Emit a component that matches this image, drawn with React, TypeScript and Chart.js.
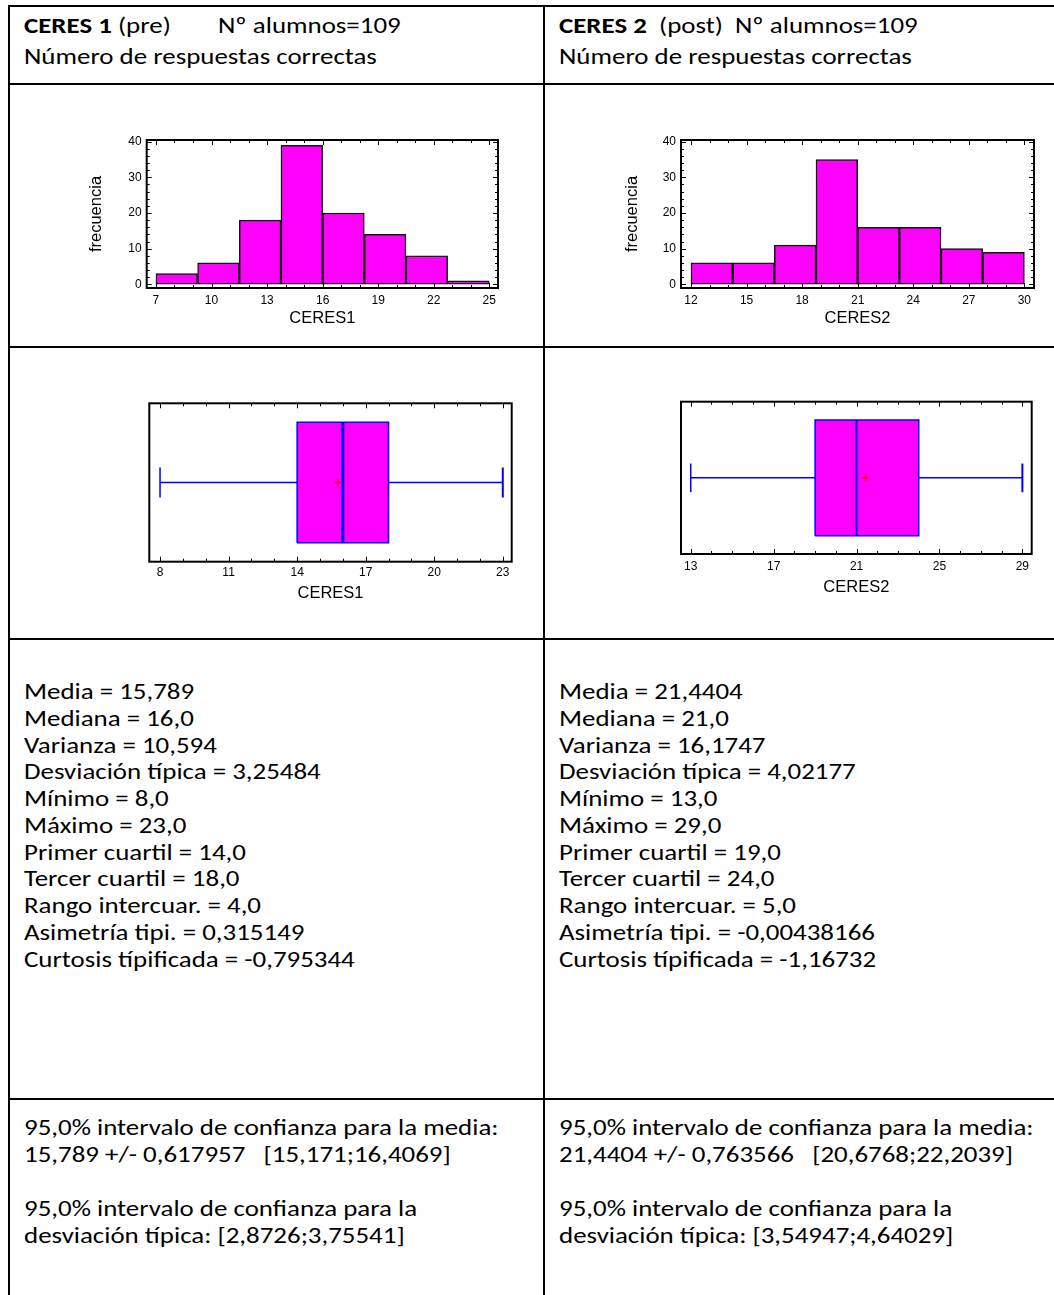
import React, { useEffect, useRef } from "react";
import { Chart, registerables } from "chart.js";

Chart.register(...registerables);

const TEXT_FONT = 'Carlito, "Liberation Sans", Arial, sans-serif';
const CHART_FONT = '"Liberation Sans", Arial, sans-serif';
const MAGENTA = "#FF00FF";
const BLUE = "#0000FF";

// Histogram bins (edges) and frequencies
const PRE_BIN_EDGES = [7, 9.25, 11.5, 13.75, 16, 18.25, 20.5, 22.75, 25];
const PRE_COUNTS = [3, 6, 18, 39, 20, 14, 8, 1];
const POST_BIN_EDGES = [12, 14.25, 16.5, 18.75, 21, 23.25, 25.5, 27.75, 30];
const POST_COUNTS = [6, 6, 11, 35, 16, 16, 10, 9];

// Axis ticks
const PRE_HIST_TICKS = [7, 10, 13, 16, 19, 22, 25];
const POST_HIST_TICKS = [12, 15, 18, 21, 24, 27, 30];
const FREQ_TICKS = [0, 10, 20, 30, 40];
const PRE_BOX_TICKS = [8, 11, 14, 17, 20, 23];
const POST_BOX_TICKS = [13, 17, 21, 25, 29];

// Box-and-whisker summaries: min, Q1, median, Q3, max
const PRE_FIVE = [8, 14, 16, 18, 23];
const POST_FIVE = [13, 19, 21, 24, 29];
const PRE_MEAN = 15.789;
const POST_MEAN = 21.4404;

// Summary statistics
const STAT_LABELS = [
  "Media",
  "Mediana",
  "Varianza",
  "Desviación típica",
  "Mínimo",
  "Máximo",
  "Primer cuartil",
  "Tercer cuartil",
  "Rango intercuar.",
  "Asimetría tipi.",
  "Curtosis típificada",
];
const PRE_STATS = ["15,789", "16,0", "10,594", "3,25484", "8,0", "23,0", "14,0", "18,0", "4,0", "0,315149", "-0,795344"];
const POST_STATS = ["21,4404", "21,0", "16,1747", "4,02177", "13,0", "29,0", "19,0", "24,0", "5,0", "-0,00438166", "-1,16732"];

const PRE_CI = [
  "95,0% intervalo de confianza para la media:",
  "15,789 +/- 0,617957   [15,171;16,4069]",
  "",
  "95,0% intervalo de confianza para la",
  "desviación típica: [2,8726;3,75541]",
];
const POST_CI = [
  "95,0% intervalo de confianza para la media:",
  "21,4404 +/- 0,763566   [20,6768;22,2039]",
  "",
  "95,0% intervalo de confianza para la",
  "desviación típica: [3,54947;4,64029]",
];

// Frame around the plot area with inward major/minor tick marks
const frameTicks = {
  id: "frameTicks",
  afterDatasetsDraw(chart: any, _args: any, opts: any) {
    const { ctx, chartArea: a, scales } = chart;
    const x = scales.x;
    const y = scales.y;
    ctx.save();
    ctx.strokeStyle = "#000";
    ctx.lineWidth = 1;
    ctx.beginPath();
    const seg = (x1: number, y1: number, x2: number, y2: number) => {
      ctx.moveTo(x1, y1);
      ctx.lineTo(x2, y2);
    };
    const xMaj = new Set(opts.xMajor);
    for (let v = Math.ceil(x.min); v <= x.max; v += opts.xMinorStep) {
      const p = Math.round(x.getPixelForValue(v)) + 0.5;
      const len = xMaj.has(v) ? 5 : 3;
      seg(p, a.bottom, p, a.bottom - len);
      seg(p, a.top, p, a.top + len);
    }
    if (opts.yMinorStep) {
      const yMaj = new Set(opts.yMajor);
      const start = Math.ceil(y.min / opts.yMinorStep) * opts.yMinorStep;
      for (let v = start; v <= y.max; v += opts.yMinorStep) {
        const p = Math.round(y.getPixelForValue(v)) + 0.5;
        const len = yMaj.has(v) ? 5 : 3;
        seg(a.left, p, a.left + len, p);
        seg(a.right, p, a.right - len, p);
      }
    }
    ctx.stroke();
    ctx.lineWidth = 2;
    ctx.strokeRect(a.left, a.top, a.right - a.left, a.bottom - a.top);
    ctx.restore();
  },
};

type Geom = {
  left: number;
  top: number;
  width: number;
  height: number;
  pad: { left: number; right: number; top: number; bottom: number };
  xAxisH: number;
  yAxisW?: number;
  xRange: [number, number];
  tickPadX: number;
  titlePadX: number;
  titlePadY?: number;
};

function ChartCanvas({ geom, makeConfig }: { geom: Geom; makeConfig: () => any }) {
  const ref = useRef<HTMLCanvasElement>(null);
  useEffect(() => {
    const chart = new Chart(ref.current as HTMLCanvasElement, makeConfig());
    return () => chart.destroy();
  }, []);
  return (
    <canvas
      ref={ref}
      width={geom.width}
      height={geom.height}
      style={{ position: "absolute", left: geom.left, top: geom.top, width: geom.width, height: geom.height }}
    />
  );
}

const tickFont = { family: CHART_FONT, size: 12 };
const titleFont = { family: CHART_FONT, size: 16.5 };

function xScale(g: Geom, ticks: number[], title: string) {
  return {
    type: "linear",
    min: g.xRange[0],
    max: g.xRange[1],
    offset: false,
    afterBuildTicks: (s: any) => {
      s.ticks = ticks.map((v) => ({ value: v }));
    },
    afterFit: (s: any) => {
      s.height = g.xAxisH;
    },
    grid: { display: false, drawTicks: false },
    border: { display: false },
    ticks: {
      font: tickFont,
      color: "#000",
      padding: g.tickPadX,
      autoSkip: false,
      maxRotation: 0,
      callback: (_v: any, i: number) => String(ticks[i]),
    },
    title: { display: true, text: title, font: titleFont, color: "#000", padding: { top: 0, bottom: g.titlePadX } },
  };
}

function histConfig(g: Geom, edges: number[], counts: number[], ticks: number[], title: string) {
  const points = counts.map((c, i) => ({ x: (edges[i] + edges[i + 1]) / 2, y: c }));
  return {
    type: "bar",
    data: {
      datasets: [
        {
          data: points,
          backgroundColor: MAGENTA,
          borderColor: "#111",
          borderWidth: 1.5,
          borderSkipped: false,
          categoryPercentage: 1,
          barPercentage: 1,
          grouped: false,
        },
      ],
    },
    plugins: [frameTicks],
    options: {
      animation: false,
      responsive: false,
      maintainAspectRatio: false,
      layout: { padding: g.pad },
      plugins: {
        legend: { display: false },
        tooltip: { enabled: false },
        frameTicks: { xMajor: ticks, xMinorStep: 1, yMajor: FREQ_TICKS, yMinorStep: 2 },
      },
      scales: {
        x: xScale(g, ticks, title),
        y: {
          type: "linear",
          min: -1.04,
          max: 40.48,
          afterBuildTicks: (s: any) => {
            s.ticks = FREQ_TICKS.map((v) => ({ value: v }));
          },
          afterFit: (s: any) => {
            s.width = g.yAxisW;
          },
          grid: { display: false, drawTicks: false },
          border: { display: false },
          ticks: {
            font: tickFont,
            color: "#000",
            padding: 5,
            autoSkip: false,
            callback: (_v: any, i: number) => String(FREQ_TICKS[i]),
          },
          title: {
            display: true,
            text: "frecuencia",
            font: titleFont,
            color: "#000",
            padding: { top: g.titlePadY, bottom: 0 },
          },
        },
      },
    },
  };
}

const BOX_HALF = 0.76;
const CAP_HALF = 0.19;

function boxConfig(g: Geom, five: number[], mean: number, ticks: number[], title: string, medianWidth: number) {
  const [mn, q1, med, q3, mx] = five;
  const line = (data: any[], extra: any = {}) => ({
    data,
    showLine: true,
    borderColor: BLUE,
    borderWidth: 1.5,
    pointRadius: 0,
    fill: false,
    tension: 0,
    ...extra,
  });
  return {
    type: "scatter",
    data: {
      datasets: [
        {
          data: [{ x: mean, y: 0 }],
          pointStyle: "cross",
          pointRadius: 3.5,
          borderColor: "#FF0000",
          borderWidth: 1.2,
          order: 0,
        },
        line(
          [
            { x: med, y: -BOX_HALF },
            { x: med, y: BOX_HALF },
          ],
          { borderWidth: medianWidth, order: 1 }
        ),
        line(
          [
            { x: q1, y: -BOX_HALF },
            { x: q3, y: -BOX_HALF },
            { x: q3, y: BOX_HALF },
            { x: q1, y: BOX_HALF },
            { x: q1, y: -BOX_HALF },
          ],
          { fill: "shape", backgroundColor: MAGENTA, order: 2 }
        ),
        line([
          { x: mn, y: 0 },
          { x: q1, y: 0 },
        ], { order: 3 }),
        line([
          { x: q3, y: 0 },
          { x: mx, y: 0 },
        ], { order: 3 }),
        line([
          { x: mn, y: -CAP_HALF },
          { x: mn, y: CAP_HALF },
        ], { order: 3 }),
        line([
          { x: mx, y: -CAP_HALF },
          { x: mx, y: CAP_HALF },
        ], { order: 3, borderWidth: 2 }),
      ],
    },
    plugins: [frameTicks],
    options: {
      animation: false,
      responsive: false,
      maintainAspectRatio: false,
      layout: { padding: g.pad },
      plugins: {
        legend: { display: false },
        tooltip: { enabled: false },
        frameTicks: { xMajor: ticks, xMinorStep: 1 },
      },
      scales: {
        x: xScale(g, ticks, title),
        y: { type: "linear", min: -1, max: 1, display: false },
      },
    },
  };
}

const HIST_PRE: Geom = {
  left: 70, top: 125, width: 440, height: 215,
  pad: { left: 0, right: 12, top: 15, bottom: 0 },
  xAxisH: 52, yAxisW: 76.7, xRange: [6.5, 25.47], tickPadX: 5, titlePadX: 12, titlePadY: 16.8,
};
const HIST_POST: Geom = {
  left: 600, top: 125, width: 440, height: 215,
  pad: { left: 0, right: 6, top: 15, bottom: 0 },
  xAxisH: 52, yAxisW: 81, xRange: [11.46, 30.52], tickPadX: 5, titlePadX: 12, titlePadY: 23,
};
const BOX_PRE: Geom = {
  left: 100, top: 395, width: 440, height: 215,
  pad: { left: 49.3, right: 28.3, top: 8.3, bottom: 0 },
  xAxisH: 48.3, xRange: [7.53, 23.39], tickPadX: 4, titlePadX: 7,
};
const BOX_POST: Geom = {
  left: 630, top: 395, width: 420, height: 215,
  pad: { left: 51, right: 18.3, top: 6.7, bottom: 0 },
  xAxisH: 56, xRange: [12.53, 29.45], tickPadX: 5, titlePadX: 13,
};

// Text line positioned by its baseline; the document text runs slightly wide
const TEXT_SIZE = 23;
const ASCENT = 18;
const TEXT_STRETCH = 1.17;
function TextLine({ x, baseline, children }: { x: number; baseline: number; children: React.ReactNode }) {
  return (
    <div
      style={{
        position: "absolute",
        left: x,
        top: baseline - ASCENT,
        fontFamily: TEXT_FONT,
        fontSize: TEXT_SIZE,
        lineHeight: `${TEXT_SIZE}px`,
        whiteSpace: "pre",
        color: "#000",
        transform: `scaleX(${TEXT_STRETCH})`,
        transformOrigin: "left center",
      }}
    >
      {children}
    </div>
  );
}

function Rule({ x, y, w, h }: { x: number; y: number; w: number; h: number }) {
  return <div style={{ position: "absolute", left: x, top: y, width: w, height: h, background: "#000" }} />;
}

const COL_X = [24, 559];
const NUM_X = [218, 735];

export default function App() {
  return (
    <div style={{ position: "relative", width: 1054, height: 1295, overflow: "hidden", background: "#fff" }}>
      <style>{"body{margin:0;background:#fff}"}</style>

      {/* table rules */}
      <Rule x={8} y={5} w={1046} h={2} />
      <Rule x={8} y={5} w={2} h={1290} />
      <Rule x={543} y={5} w={2} h={1290} />
      <Rule x={8} y={83} w={1046} h={2} />
      <Rule x={8} y={346} w={1046} h={2} />
      <Rule x={8} y={638} w={1046} h={2} />
      <Rule x={8} y={1098} w={1046} h={2} />

      {/* headers */}
      <TextLine x={COL_X[0]} baseline={31.5}>
        <b>CERES 1</b> (pre)
      </TextLine>
      <TextLine x={NUM_X[0]} baseline={31.5}>Nº alumnos=109</TextLine>
      <TextLine x={COL_X[0]} baseline={63}>Número de respuestas correctas</TextLine>
      <TextLine x={COL_X[1]} baseline={31.5}>
        <b>CERES 2</b>  (post)
      </TextLine>
      <TextLine x={NUM_X[1]} baseline={31.5}>Nº alumnos=109</TextLine>
      <TextLine x={COL_X[1]} baseline={63}>Número de respuestas correctas</TextLine>

      {/* charts */}
      <ChartCanvas geom={HIST_PRE} makeConfig={() => histConfig(HIST_PRE, PRE_BIN_EDGES, PRE_COUNTS, PRE_HIST_TICKS, "CERES1")} />
      <ChartCanvas geom={HIST_POST} makeConfig={() => histConfig(HIST_POST, POST_BIN_EDGES, POST_COUNTS, POST_HIST_TICKS, "CERES2")} />
      <ChartCanvas geom={BOX_PRE} makeConfig={() => boxConfig(BOX_PRE, PRE_FIVE, PRE_MEAN, PRE_BOX_TICKS, "CERES1", 3)} />
      <ChartCanvas geom={BOX_POST} makeConfig={() => boxConfig(BOX_POST, POST_FIVE, POST_MEAN, POST_BOX_TICKS, "CERES2", 2)} />

      {/* summary statistics */}
      {STAT_LABELS.map((label, i) => (
        <React.Fragment key={label}>
          <TextLine x={COL_X[0]} baseline={698 + i * 26.75}>{`${label} = ${PRE_STATS[i]}`}</TextLine>
          <TextLine x={COL_X[1]} baseline={698 + i * 26.75}>{`${label} = ${POST_STATS[i]}`}</TextLine>
        </React.Fragment>
      ))}

      {/* confidence intervals */}
      {PRE_CI.map((t, i) => (
        <React.Fragment key={i}>
          <TextLine x={COL_X[0]} baseline={1134 + i * 27}>{t}</TextLine>
          <TextLine x={COL_X[1]} baseline={1134 + i * 27}>{POST_CI[i]}</TextLine>
        </React.Fragment>
      ))}
    </div>
  );
}
